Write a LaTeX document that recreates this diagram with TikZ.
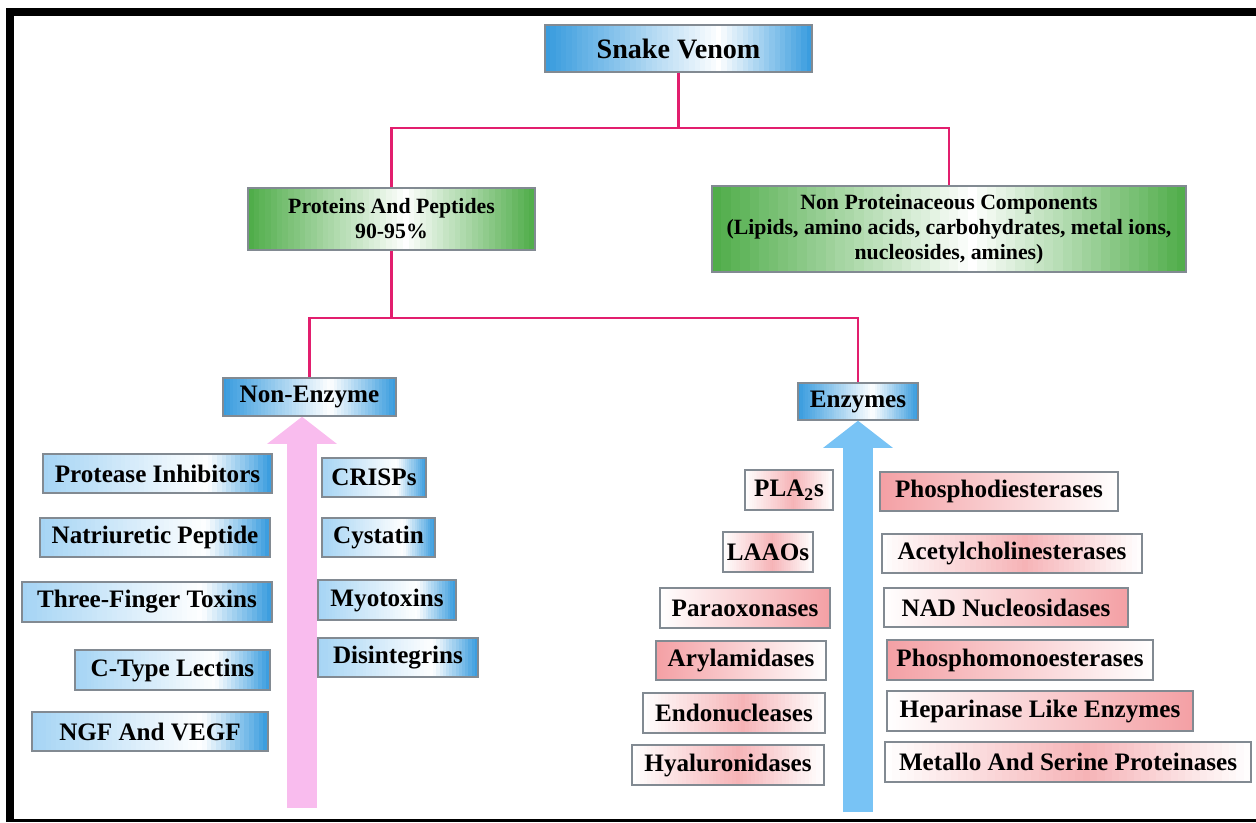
\documentclass[tikz,border=0pt]{standalone}
\usepackage{fontspec}
\setmainfont{Liberation Serif}
\usepackage{tikz}
\usetikzlibrary{positioning,calc,arrows.meta}

\definecolor{linkred}{RGB}{226,30,110}
\definecolor{arrowpink}{RGB}{249,188,238}
\definecolor{arrowblue}{RGB}{120,195,245}
\definecolor{boxblue}{RGB}{55,155,222}
\definecolor{lightblue}{RGB}{165,212,244}
\definecolor{boxgreen}{RGB}{78,172,72}
\definecolor{boxpink}{RGB}{240,128,134}
\definecolor{boxline}{RGB}{130,138,146}
\colorlet{pinkmid}{boxpink!60}
\colorlet{pinkside}{boxpink!75}

\tikzset{
  sz/.style 2 args={minimum width=#1*0.02cm, minimum height=#2*0.02cm, inner sep=0pt},
  % three colour horizontal blend in thin strips: left, middle, right, position of middle
  shade3/.style n args={4}{path picture={
      \foreach \i in {0,...,49}{
        \pgfmathsetmacro\ta{\i/50}
        \pgfmathsetmacro\tb{(\i+1.3)/50}
        \pgfmathtruncatemacro\lft{(\i+0.5)/50<#4}
        \ifnum\lft=1
          \pgfmathtruncatemacro\pct{100*(\i+0.5)/50/#4}
          \colorlet{stripcol}{#2!\pct!#1}
        \else
          \pgfmathtruncatemacro\pct{100-100*((\i+0.5)/50-#4)/(1-#4)}
          \colorlet{stripcol}{#2!\pct!#3}
        \fi
        \fill[stripcol] ($(path picture bounding box.south west)!\ta!(path picture bounding box.south east)$)
          rectangle ($(path picture bounding box.north west)!\tb!(path picture bounding box.north east)$);
      }}},
  headbox/.style={draw=boxline, line width=0.8pt, shade3={boxblue}{white}{boxblue}{0.65},
    font=\fontsize{16}{19}\selectfont\bfseries},
  catbox/.style={draw=boxline, line width=0.8pt, shade3={boxblue}{white}{boxblue}{0.62},
    font=\fontsize{14.3}{17}\selectfont\bfseries},
  greenbox/.style={draw=boxline, line width=0.8pt, shade3={boxgreen}{white}{boxgreen}{0.55},
    align=center, font=\fontsize{12.4}{14.2}\selectfont\bfseries},
  itembox/.style={draw=boxline, line width=0.6pt, shade3={lightblue}{white}{boxblue}{0.72},
    font=\fontsize{14.3}{17}\selectfont\bfseries},
  enzR/.style={draw=boxline, line width=0.6pt, left color=white, right color=pinkside,
    font=\fontsize{14.3}{17}\selectfont\bfseries},
  enzL/.style={draw=boxline, line width=0.6pt, left color=pinkside, right color=white,
    font=\fontsize{14.3}{17}\selectfont\bfseries},
  enzM/.style={draw=boxline, line width=0.6pt, shade3={white}{pinkmid}{white}{0.55},
    font=\fontsize{14.3}{17}\selectfont\bfseries},
  link/.style={draw=linkred, line width=1.5pt},
  bigarrow/.style={line width=17pt, -{Triangle[width=39pt,length=15.5pt]}}
}

\begin{document}
\begin{tikzpicture}[x=0.02cm, y=-0.02cm]
    \useasboundingbox (0,0) rectangle (1256,822);
    % frame
    \fill[black] (6,8) rectangle (1256,16);
    \fill[black] (6,8) rectangle (14,822);
    \fill[black] (6,819) rectangle (1256,822);

    % top levels
    \node [headbox, sz={267}{47}] (venom) at (678.5,48.5) {Snake Venom};
    \node [greenbox, sz={287}{62}] (prot) at (391.5,219) {Proteins And Peptides\\90-95\%};
    \node [greenbox, sz={474}{86}] (nonprot) at (949,229) {Non Proteinaceous Components\\(Lipids, amino acids, carbohydrates, metal ions,\\nucleosides, amines)};
    \node [catbox, sz={173}{38}] (nonenz) at (309.5,397) {Non-Enzyme};
    \node [catbox, sz={120}{37}] (enz) at (858,401.5) {Enzymes};

    \coordinate (split1) at (678.5,128);
    \coordinate (split2) at (391.5,318);
    \draw[link] (venom.south) -- (split1);
    \draw[link] (split1) -| (prot.north);
    \draw[link] (split1) -| (nonprot.north);
    \draw[link] (prot.south) -- (split2);
    \draw[link] (split2) -| (nonenz.north);
    \draw[link] (split2) -| (enz.north);

    % arrows
    \coordinate (pinkbot) at (302,808);
    \coordinate (bluebot) at (858,812);
    \draw[bigarrow, draw=arrowpink, fill=arrowpink] (pinkbot) -- (pinkbot |- nonenz.south);
    \draw[bigarrow, draw=arrowblue, fill=arrowblue] (bluebot) -- (enz.south);

    % non-enzyme components
    \node [itembox, sz={229}{39}] (pi) at (157.5,473.5) {Protease Inhibitors};
    \node [itembox, sz={230}{39}] (np) at (155,537.5) {Natriuretic Peptide};
    \node [itembox, sz={250}{40}] (tft) at (147,602) {Three-Finger Toxins};
    \node [itembox, sz={195}{40}] (ctl) at (172.5,670) {C-Type Lectins};
    \node [itembox, sz={236}{39}] (ngf) at (150,731.5) {NGF And VEGF};
    \node [itembox, sz={104}{39}] (crisp) at (374,477.5) {CRISPs};
    \node [itembox, sz={113}{39}] (cyst) at (378.5,537.5) {Cystatin};
    \node [itembox, sz={138}{40}] (myo) at (387,600) {Myotoxins};
    \node [itembox, sz={160}{39}] (disint) at (398,657.5) {Disintegrins};

    % enzymes
    \node [enzM, sz={88}{40}] (pla) at (789,490) {PLA\textsubscript{2}s};
    \node [enzM, sz={90}{40}] (laao) at (768,552) {LAAOs};
    \node [enzR, sz={170}{40}] (parax) at (745,608) {Paraoxonases};
    \node [enzL, sz={170}{39}] (aryl) at (741,660.5) {Arylamidases};
    \node [enzM, sz={182}{40}] (endo) at (734,713) {Endonucleases};
    \node [enzM, sz={192}{40}] (hyal) at (728,765) {Hyaluronidases};
    \node [enzL, sz={238}{39}] (pde) at (999,491.5) {Phosphodiesterases};
    \node [enzM, sz={260}{39}] (ache) at (1012,553.5) {Acetylcholinesterases};
    \node [enzR, sz={244}{39}] (nad) at (1006,607.5) {NAD Nucleosidases};
    \node [enzL, sz={266}{40}] (pme) at (1020,660) {Phosphomonoesterases};
    \node [enzR, sz={306}{40}] (hep) at (1040,711) {Heparinase Like Enzymes};
    \node [enzM, sz={366}{40}] (msp) at (1068,762) {Metallo And Serine Proteinases};
\end{tikzpicture}
\end{document}
